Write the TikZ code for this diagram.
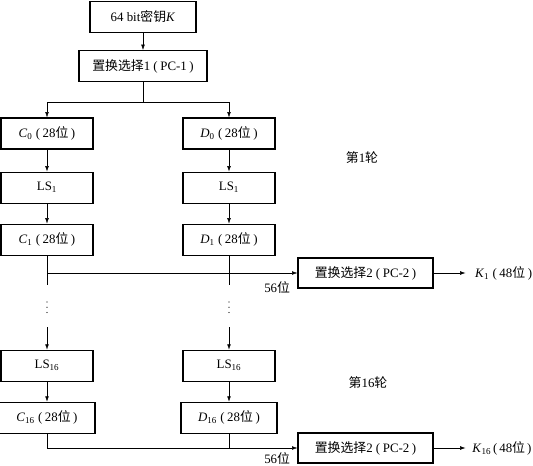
\documentclass[tikz,border=0pt]{standalone}
\usepackage{fontspec}
\setmainfont{Liberation Serif}
\newfontfamily\cjk{Noto Sans CJK SC}
\usetikzlibrary{arrows.meta,positioning}
\newcommand{\zh}[1]{{\cjk #1}}
\newcommand{\lp}{\hspace{0.25em}(\hspace{0.2em}}
\newcommand{\rp}{\hspace{0.2em})}

\begin{document}
\begin{tikzpicture}[
    node distance=0.6cm,
    keybox/.style={rectangle, draw, line width=0.9pt, minimum width=2.76cm, minimum height=0.93cm, align=center, inner sep=2pt, font=\fontsize{11}{13}\selectfont},
    gap/.style={inner sep=0pt, minimum width=0.1cm, minimum height=0.3cm, anchor=north},
    arrow/.style={-{Latex[length=1.6mm,width=1.1mm]}, line width=0.4pt},
    link/.style={line width=0.4pt},
    note/.style={inner sep=1pt, font=\fontsize{11}{13}\selectfont}
  ]
    \useasboundingbox (0,0) rectangle (15.99,-13.98);
    \node[keybox, minimum width=3.18cm] (key) at (4.29,-0.51) {64 bit\zh{密钥}\textit{K}};
    \node[keybox, minimum width=3.84cm, below=0.51cm of key] (pc1) {\zh{置换选择}1\lp PC-1\rp};
    \path (pc1.south) ++(0,-0.6) coordinate (split);
    % left and right halves
    \node[keybox] (c0) at (1.41,-4.005) {\textit{C}\textsubscript{0}\lp 28\zh{位}\rp};
    \node[keybox] (d0) at (6.87,-4.005) {\textit{D}\textsubscript{0}\lp 28\zh{位}\rp};
    \node[keybox, below=0.66cm of c0] (ls1c) {LS\textsubscript{1}};
    \node[keybox, below=0.66cm of d0] (ls1d) {LS\textsubscript{1}};
    \node[keybox, below=of ls1c] (c1) {\textit{C}\textsubscript{1}\lp 28\zh{位}\rp};
    \node[keybox, below=of ls1d] (d1) {\textit{D}\textsubscript{1}\lp 28\zh{位}\rp};
    \node[gap] (cdots) at (c1 |- 0,-9.06) {};
    \node[gap] (ddots) at (d1 |- 0,-9.06) {};
    \node[keybox, below=2.82cm of c1] (ls16c) {LS\textsubscript{16}};
    \node[keybox, below=2.82cm of d1] (ls16d) {LS\textsubscript{16}};
    \node[keybox, minimum width=2.88cm, below=of ls16c] (c16) {\textit{C}\textsubscript{16}\lp 28\zh{位}\rp};
    \node[keybox, minimum width=2.88cm, below=of ls16d] (d16) {\textit{D}\textsubscript{16}\lp 28\zh{位}\rp};
    % PC-2 and subkeys
    \node[keybox, minimum width=4.05cm, minimum height=0.9cm] (pc2) at (10.965,-8.19) {\zh{置换选择}2\lp PC-2\rp};
    \node[keybox, minimum width=4.05cm, minimum height=0.9cm] (pc2b) at (10.965,-13.44) {\zh{置换选择}2\lp PC-2\rp};
    \node[note, inner xsep=0.28cm, right=0.96cm of pc2] (k1) {\textit{K}\textsubscript{1}\lp 48\zh{位}\rp};
    \node[note, inner xsep=0.2cm, right=0.96cm of pc2b] (k16) {\textit{K}\textsubscript{16}\hspace{0.15em}(\hspace{0.15em}48\zh{位}\hspace{0.15em})};
    \node[note, anchor=north east] (w1) at ([xshift=-0.18cm,yshift=-0.21cm]pc2.west) {56\zh{位}};
    \node[note, anchor=north east] (w16) at ([xshift=-0.18cm,yshift=-0.09cm]pc2b.west) {56\zh{位}};
    \node[note] (r1) at (10.86,-4.74) {\zh{第}1\zh{轮}};
    \node[note] (r16) at (11.04,-11.49) {\zh{第}16\zh{轮}};
    % vertical ellipses
    \foreach \n in {cdots,ddots}
      \foreach \a in {north,center,south}
        \fill (\n.\a) circle (0.6pt);
    % connectors
    \draw[arrow] (key) -- (pc1);
    \draw[link] (pc1.south) -- (split);
    \draw[arrow] (split) -| (c0.north);
    \draw[arrow] (split) -| (d0.north);
    \draw[arrow] (c0) -- (ls1c);
    \draw[arrow] (d0) -- (ls1d);
    \draw[arrow] (ls1c) -- (c1);
    \draw[arrow] (ls1d) -- (d1);
    \draw[link, shorten >=0.5cm] (c1.south) -- (cdots.north);
    \draw[link, shorten >=0.5cm] (d1.south) -- (ddots.north);
    \draw[arrow] (c1.south |- pc2.west) -- (pc2.west);
    \draw[arrow, shorten <=0.45cm] (cdots.south) -- (ls16c.north);
    \draw[arrow, shorten <=0.45cm] (ddots.south) -- (ls16d.north);
    \draw[arrow] (ls16c) -- (c16);
    \draw[arrow] (ls16d) -- (d16);
    \draw[arrow] (c16.south) |- (pc2b.west);
    \draw[link] (d16.south) -- (d16.south |- pc2b.west);
    \draw[arrow] (pc2) -- (k1);
    \draw[arrow] (pc2b) -- (k16);
\end{tikzpicture}
\end{document}
